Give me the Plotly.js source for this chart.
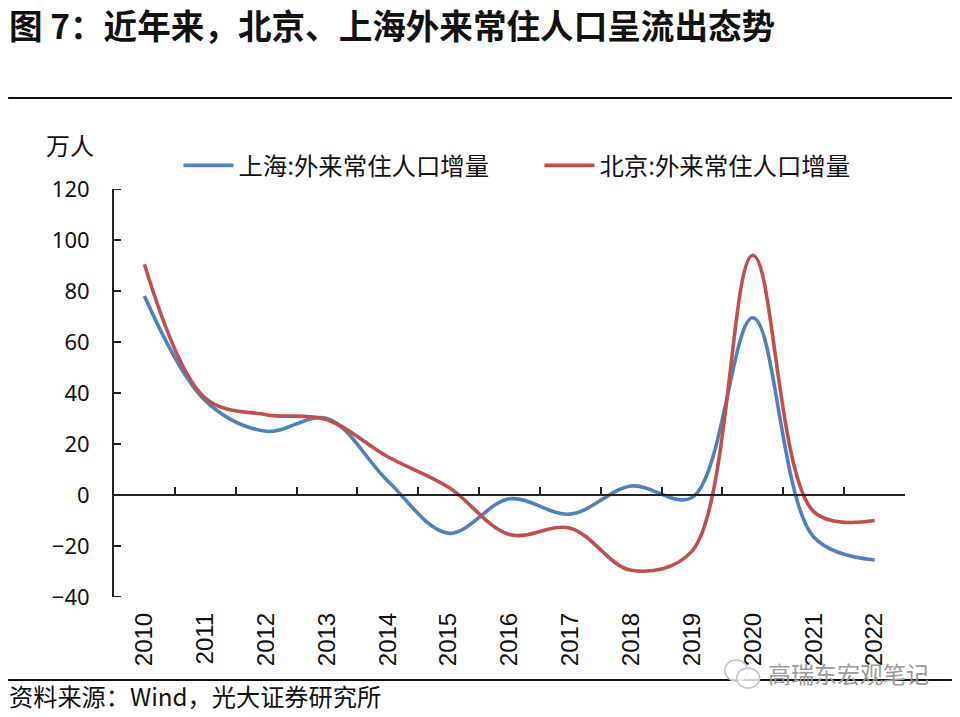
<!DOCTYPE html>
<html><head><meta charset="utf-8">
<script src="https://cdn.plot.ly/plotly-3.0.1.min.js"></script>
<style>html,body{margin:0;padding:0;background:#fff}</style></head>
<body><div id="chart" style="width:960px;height:717px"></div>
<script>
const years=['2010','2011','2012','2013','2014','2015','2016','2017','2018','2019','2020','2021','2022'];
const shanghai=[78,37,25,30,5.5,-15,-1.5,-7.5,3.5,-1,69.5,-16.5,-25.5];
const beijing=[90.5,38,31.5,29.5,15,3,-15.5,-13,-29.5,-22,94,-6.5,-10];
const yTicks=[-40,-20,0,20,40,60,80,100,120];
const titleText='图 7：近年来，北京、上海外来常住人口呈流出态势';
const sourceText='资料来源：Wind，光大证券研究所';
const unitText='万人';
const markText='高瑞东宏观笔记';
const nameSH='上海:外来常住人口增量', nameBJ='北京:外来常住人口增量';
const cjk='"Noto Sans CJK SC","Noto Sans",sans-serif';
const W=960,H=717,L=113.5,R=905.5,T=189,B=597;
const px=x=>(x-L)/(R-L), py=y=>(B-y)/(B-T);
const xrange=[-0.5,12.5];
const traces=[
 {x:years,y:shanghai,name:nameSH,type:'scatter',mode:'lines',xaxis:'x',yaxis:'y',
  line:{color:'#4f81bd',width:3.6,shape:'spline',smoothing:1}},
 {x:years,y:beijing,name:nameBJ,type:'scatter',mode:'lines',xaxis:'x2',yaxis:'y',
  line:{color:'#c0504d',width:3.6,shape:'spline',smoothing:1}}
];
const yTickMarks=yTicks.map(v=>({type:'line',xref:'paper',yref:'y',x0:0,x1:7/(R-L),y0:v,y1:v,line:{color:'#222',width:2}}));
const layout={
 width:W,height:H,paper_bgcolor:'#fff',plot_bgcolor:'#fff',
 margin:{l:L,r:W-R,t:T,b:H-B,pad:0},
 font:{family:cjk,color:'#111',size:22},
 showlegend:true,
 legend:{orientation:'h',x:px(178),y:py(143),xanchor:'left',yanchor:'top',
  font:{family:cjk,size:24.4,color:'#111'},itemwidth:50,entrywidth:296,entrywidthmode:'pixels',
  tracegroupgap:0,bgcolor:'rgba(0,0,0,0)',itemclick:false},
 xaxis:{type:'category',anchor:'free',position:0.25,range:xrange,categoryorder:'array',categoryarray:years,
  showticklabels:false,showline:true,linecolor:'#222',linewidth:2,ticks:'inside',ticklen:7,tickwidth:2,tickcolor:'#222',
  tickson:'boundaries',showgrid:false,zeroline:false},
 xaxis2:{type:'category',overlaying:'x',anchor:'y',range:xrange,categoryorder:'array',categoryarray:years,
  tickmode:'array',tickvals:years,ticktext:years,tickangle:-90,ticks:'',showline:false,showgrid:false,zeroline:false,
  tickfont:{family:'"Liberation Sans",Arial,sans-serif',size:24,color:'#111'},ticklabelstandoff:10,automargin:false},
 yaxis:{range:[-40,120],tickmode:'array',tickvals:yTicks,ticks:'inside',ticklen:7,tickwidth:2,tickcolor:'#222',
  showline:true,linecolor:'#222',linewidth:2,showgrid:false,zeroline:false,ticklabelstandoff:18,
  tickfont:{family:'"Noto Sans",sans-serif',size:22,color:'#111'},automargin:false},
 annotations:[
  {xref:'paper',yref:'paper',x:px(6),y:py(24),xanchor:'left',yanchor:'middle',text:'<b>'+titleText+'</b>',showarrow:false,font:{family:cjk,size:33.6,color:'#111'}},
  {xref:'paper',yref:'paper',x:px(43),y:py(145),xanchor:'left',yanchor:'middle',text:unitText,showarrow:false,font:{family:cjk,size:24,color:'#111'}},
  {xref:'paper',yref:'paper',x:px(6),y:py(695),xanchor:'left',yanchor:'middle',text:sourceText,showarrow:false,font:{family:cjk,size:24.2,color:'#111'}},
  {xref:'paper',yref:'paper',x:px(766),y:py(673),xanchor:'left',yanchor:'middle',text:markText,showarrow:false,font:{family:cjk,size:23,color:'#9a9a9a'}}
 ],
 shapes:[
  {type:'line',xref:'paper',yref:'paper',x0:px(7.5),x1:px(952.5),y0:py(98),y1:py(98),line:{color:'#111',width:2}},
  {type:'line',xref:'paper',yref:'paper',x0:px(7.5),x1:px(952.5),y0:py(680),y1:py(680),line:{color:'#111',width:2}},
  {type:'circle',xref:'paper',yref:'paper',x0:px(725),x1:px(748),y0:py(660),y1:py(681),fillcolor:'rgba(255,255,255,.8)',line:{color:'#c4c4c4',width:1.5}},
  {type:'circle',xref:'paper',yref:'paper',x0:px(737),x1:px(760),y0:py(668),y1:py(688),fillcolor:'rgba(255,255,255,.8)',line:{color:'#c4c4c4',width:1.5}},
  ...yTickMarks
 ]
};
Plotly.newPlot('chart',traces,layout,{displayModeBar:false,responsive:false});
</script></body></html>
